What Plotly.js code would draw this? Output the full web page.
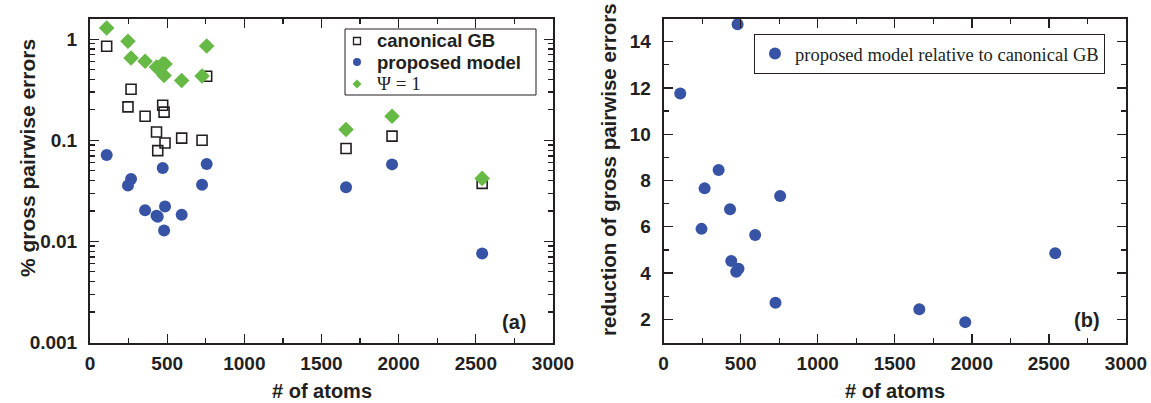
<!DOCTYPE html>
<html>
<head>
<meta charset="utf-8">
<script src="https://cdn.plot.ly/plotly-3.0.1.min.js"></script>
<style>html,body{margin:0;padding:0;background:#fff}#chart{width:1151px;height:403px}</style>
</head>
<body>
<div id="chart"></div>
<script>
// ---- data ----
const atoms = [108, 246, 266, 357, 431, 439, 471, 480, 486, 594, 726, 756, 1659, 1957, 2541];
const canonicalGB = [0.853, 0.214, 0.32, 0.173, 0.121, 0.079, 0.222, 0.19, 0.094, 0.105, 0.10, 0.43, 0.083, 0.11, 0.0375];
const proposedModel = [0.0715, 0.0358, 0.0414, 0.0203, 0.0179, 0.0175, 0.0532, 0.0128, 0.0222, 0.0184, 0.0364, 0.0582, 0.0343, 0.0578, 0.0076];
const psiOne = [1.29, 0.955, 0.653, 0.605, 0.532, 0.52, 0.57, 0.437, 0.569, 0.39, 0.433, 0.858, 0.128, 0.173, 0.042];
const reduction = [11.76, 5.91, 7.66, 8.45, 6.76, 4.52, 4.06, 14.75, 4.19, 5.65, 2.72, 7.33, 2.44, 1.88, 4.86];
const seriesNames = ['canonical GB', 'proposed model', 'Ψ = 1'];
const xTicks = [0, 500, 1000, 1500, 2000, 2500, 3000];
const logTicks = [0.001, 0.01, 0.1, 1];
const logTickText = ['0.001', '0.01', '0.1', '1'];
const redTicks = [2, 4, 6, 8, 10, 12, 14];

// ---- styling ----
const ink = '#231f20';
const blue = '#3653a5';
const green = '#67b945';
const sans = 'Liberation Sans, Arial, sans-serif';
const serif = 'Liberation Serif, Times New Roman, serif';
const W = 1151, H = 403;
const px = v => v / W, py = v => 1 - v / H;

const logMinor = [];
for (let d = -3; d <= 0; d++) for (let m = 2; m <= 9; m++) logMinor.push(m * Math.pow(10, d));

const traces = [
  {x: atoms, y: canonicalGB, type: 'scatter', mode: 'markers', name: seriesNames[0], showlegend: false,
   marker: {symbol: 'square-open', size: 10, color: ink, line: {width: 1.6, color: ink}},
   xaxis: 'x', yaxis: 'y'},
  {x: atoms, y: proposedModel, type: 'scatter', mode: 'markers', name: seriesNames[1], showlegend: false,
   marker: {symbol: 'circle', size: 12, color: blue},
   xaxis: 'x', yaxis: 'y'},
  {x: atoms, y: psiOne, type: 'scatter', mode: 'markers', name: seriesNames[2], showlegend: false,
   marker: {symbol: 'diamond', size: 12, color: green},
   xaxis: 'x', yaxis: 'y'},
  {x: atoms, y: reduction, type: 'scatter', mode: 'markers', name: 'proposed model relative to canonical GB',
   marker: {symbol: 'circle', size: 12, color: blue},
   xaxis: 'x2', yaxis: 'y2', legend: 'legend2'}
];

const tickFont = {family: sans, size: 19, color: ink, weight: 'bold'};
const axisCommon = {
  showline: true, linecolor: ink, linewidth: 2, mirror: 'allticks',
  ticks: 'inside', ticklen: 9, tickwidth: 1.3, tickcolor: ink,
  showgrid: false, zeroline: false, automargin: false,
  tickfont: tickFont
};

const xAxisBase = Object.assign({}, axisCommon, {
  range: [0, 3000], tickmode: 'array', tickvals: xTicks, ticktext: xTicks.map(String),
  minor: {tickmode: 'linear', tick0: 0, dtick: 250, ticklen: 5, tickwidth: 1.2, tickcolor: ink, ticks: 'inside'},
  ticklabelstandoff: 3
});

const titleFont = {family: sans, size: 20, color: ink};

// left-panel legend (box + keys + labels), placed in paper coordinates
const legRows = [41, 62, 84];
const legKeyX = 357, legTextX = 376;
const shapes = [
  {type: 'rect', xref: 'paper', yref: 'paper', x0: px(345), x1: px(536), y0: py(95), y1: py(29),
   line: {color: ink, width: 1}, fillcolor: '#fff', layer: 'above'},
  {type: 'rect', xref: 'paper', yref: 'paper', x0: px(legKeyX - 3.5), x1: px(legKeyX + 3.5),
   y0: py(legRows[0] + 3.5), y1: py(legRows[0] - 3.5), line: {color: ink, width: 1.3}, fillcolor: 'rgba(0,0,0,0)', layer: 'above'},
  {type: 'circle', xref: 'paper', yref: 'paper', x0: px(legKeyX - 4), x1: px(legKeyX + 4),
   y0: py(legRows[1] + 4), y1: py(legRows[1] - 4), line: {width: 0}, fillcolor: blue, layer: 'above'},
  {type: 'path', xref: 'paper', yref: 'paper', layer: 'above', fillcolor: green, line: {width: 0},
   path: `M ${px(legKeyX)} ${py(legRows[2] - 4.5)} L ${px(legKeyX + 4.5)} ${py(legRows[2])} L ${px(legKeyX)} ${py(legRows[2] + 4.5)} L ${px(legKeyX - 4.5)} ${py(legRows[2])} Z`}
];

const annotations = [
  {xref: 'paper', yref: 'paper', x: px(legTextX), y: py(legRows[0]), text: '<b>' + seriesNames[0] + '</b>', showarrow: false,
   font: {family: sans, size: 18.5, color: ink}, xanchor: 'left', yanchor: 'middle', borderpad: 0},
  {xref: 'paper', yref: 'paper', x: px(legTextX), y: py(legRows[1]), text: '<b>' + seriesNames[1] + '</b>', showarrow: false,
   font: {family: sans, size: 18.5, color: ink}, xanchor: 'left', yanchor: 'middle', borderpad: 0},
  {xref: 'paper', yref: 'paper', x: px(legTextX), y: py(legRows[2]), text: seriesNames[2], showarrow: false,
   font: {family: serif, size: 19, color: ink}, xanchor: 'left', yanchor: 'middle', borderpad: 0},
  {xref: 'x', yref: 'paper', x: 2750, y: py(322), text: '<b>(a)</b>', showarrow: false,
   font: {family: sans, size: 20, color: ink}, xanchor: 'center', yanchor: 'middle'},
  {xref: 'x2', yref: 'paper', x: 2750, y: py(320), text: '<b>(b)</b>', showarrow: false,
   font: {family: sans, size: 20, color: ink}, xanchor: 'center', yanchor: 'middle'},
  {xref: 'paper', yref: 'paper', x: px(322), y: py(390.5), text: '<b># of atoms</b>', showarrow: false,
   font: titleFont, xanchor: 'center', yanchor: 'middle', borderpad: 0},
  {xref: 'paper', yref: 'paper', x: px(894.5), y: py(390.5), text: '<b># of atoms</b>', showarrow: false,
   font: titleFont, xanchor: 'center', yanchor: 'middle', borderpad: 0},
  {xref: 'paper', yref: 'paper', x: px(28), y: py(158), text: '<b>% gross pairwise errors</b>', showarrow: false,
   textangle: -90, font: {family: sans, size: 21, color: ink}, xanchor: 'center', yanchor: 'middle'},
  {xref: 'paper', yref: 'paper', x: px(608), y: py(170), text: '<b>reduction of gross pairwise errors</b>', showarrow: false,
   textangle: -90, font: {family: sans, size: 20.5, color: ink}, xanchor: 'center', yanchor: 'middle'}
];

const layout = {
  width: W, height: H,
  margin: {l: 0, r: 0, t: 0, b: 0},
  paper_bgcolor: '#fff', plot_bgcolor: '#fff',
  showlegend: true,
  xaxis: Object.assign({}, xAxisBase, {domain: [px(90), px(553)], anchor: 'y'}),
  xaxis2: Object.assign({}, xAxisBase, {domain: [px(663.6), px(1126)], anchor: 'y2'}),
  yaxis: Object.assign({}, axisCommon, {
    type: 'log', range: [-3, 0.205], domain: [py(342.5), py(18.5)], anchor: 'x',
    tickmode: 'array', tickvals: logTicks, ticktext: logTickText,
    minor: {tickmode: 'array', tickvals: logMinor, ticklen: 5, tickwidth: 1.2, tickcolor: ink, ticks: 'inside'},
    ticklabelstandoff: 7
  }),
  yaxis2: Object.assign({}, axisCommon, {
    range: [1, 15], domain: [py(342.5), py(18.5)], anchor: 'x2',
    tickmode: 'array', tickvals: redTicks, ticktext: redTicks.map(String),
    minor: {tickmode: 'linear', tick0: 1, dtick: 2, ticklen: 5, tickwidth: 1.2, tickcolor: ink, ticks: 'inside'},
    ticklabelstandoff: 7
  }),
  legend2: {
    x: px(754), y: py(54), xanchor: 'left', yanchor: 'middle',
    bgcolor: '#fff', bordercolor: ink, borderwidth: 1,
    font: {family: serif, size: 18.5, color: ink}, itemwidth: 30
  },
  shapes: shapes,
  annotations: annotations
};

Plotly.newPlot('chart', traces, layout, {staticPlot: true, displayModeBar: false});
</script>
</body>
</html>
